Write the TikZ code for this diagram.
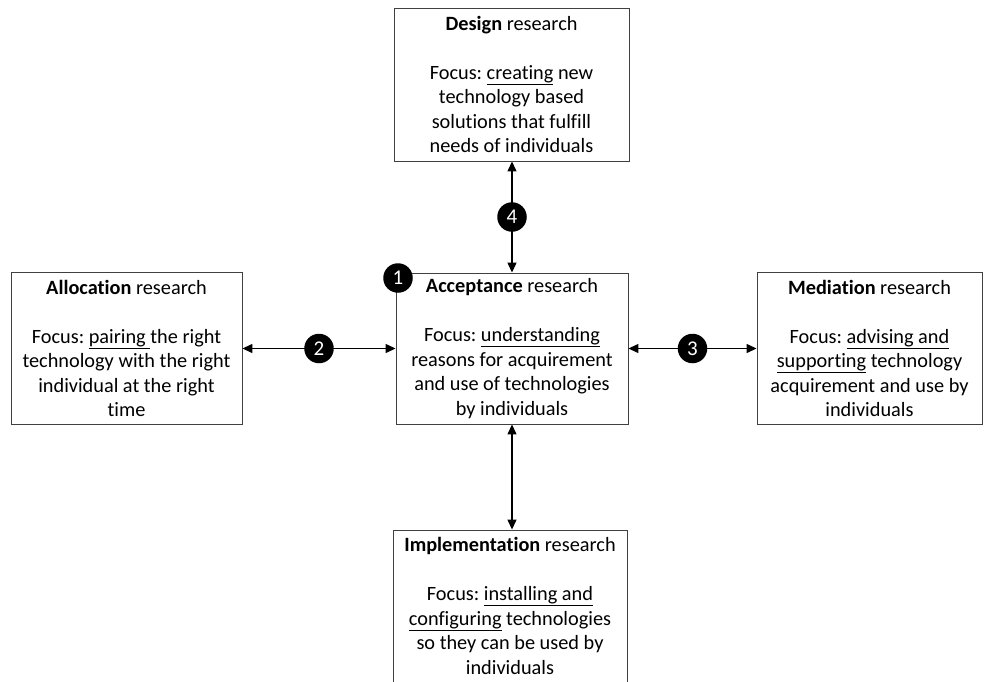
\documentclass[tikz,border=0pt]{standalone}
\usepackage{fontspec}
\setmainfont{Carlito}[Ligatures=NoCommon]
\usetikzlibrary{arrows.meta}
\frenchspacing
\begin{document}
\begin{tikzpicture}[x=1pt,y=-1pt,
  box/.style={draw=black!75, line width=0.9pt, align=center, inner sep=0pt,
    font=\fontsize{20.3}{24.5}\selectfont},
  badge/.style={circle, fill=black, text=white, inner sep=0pt, minimum size=29.5pt,
    font=\fontsize{21}{21}\selectfont},
  link/.style={line width=1.3pt, {Triangle[length=10pt,width=9pt]}-{Triangle[length=10pt,width=9pt]}}]
\useasboundingbox (0,0) rectangle (986,681);

% research boxes
\node[box, minimum width=235pt, minimum height=153pt] (design) at (511.5,84.5)
  {\textbf{Design} research\\[24.5pt]
   Focus: \underline{creating} new\\technology based\\solutions that fulfill\\needs of individuals};
\node[box, minimum width=232pt, minimum height=151pt] (accept) at (512,348.5)
  {\textbf{Acceptance} research\\[24.5pt]
   Focus: \underline{understanding}\\reasons for acquirement\\and use of technologies\\by individuals};
\node[box, minimum width=231pt, minimum height=152pt] (alloc) at (126.5,348.5)
  {\textbf{Allocation} research\\[24.5pt]
   Focus: \underline{pairing\ }the right\\technology with the right\\individual at the right\\time};
\node[box, minimum width=225pt, minimum height=152pt] (medi) at (869.5,348.5)
  {\textbf{Mediation} research\\[24.5pt]
   Focus: \underline{advising and}\\\underline{supporting} technology\\acquirement and use by\\individuals};
\node[box, minimum width=234pt, minimum height=152pt] (impl) at (510,606)
  {\textbf{Implementation} research\\[24.5pt]
   Focus: \underline{installing and}\\\underline{configuring} technologies\\so they can be used by\\individuals};

% connectors with numbered badges
\draw[link] (alloc.east) -- node[badge] (b2) {2} (accept.west);
\draw[link] (accept.east) -- node[badge] (b3) {3} (medi.west);
\draw[link] (design.south -| accept.north) -- node[badge] (b4) {4} (accept.north);
\draw[link] (accept.south) -- (accept.south |- impl.north);

\node[badge] (b1) at (398,278) {1};
\end{tikzpicture}
\end{document}
